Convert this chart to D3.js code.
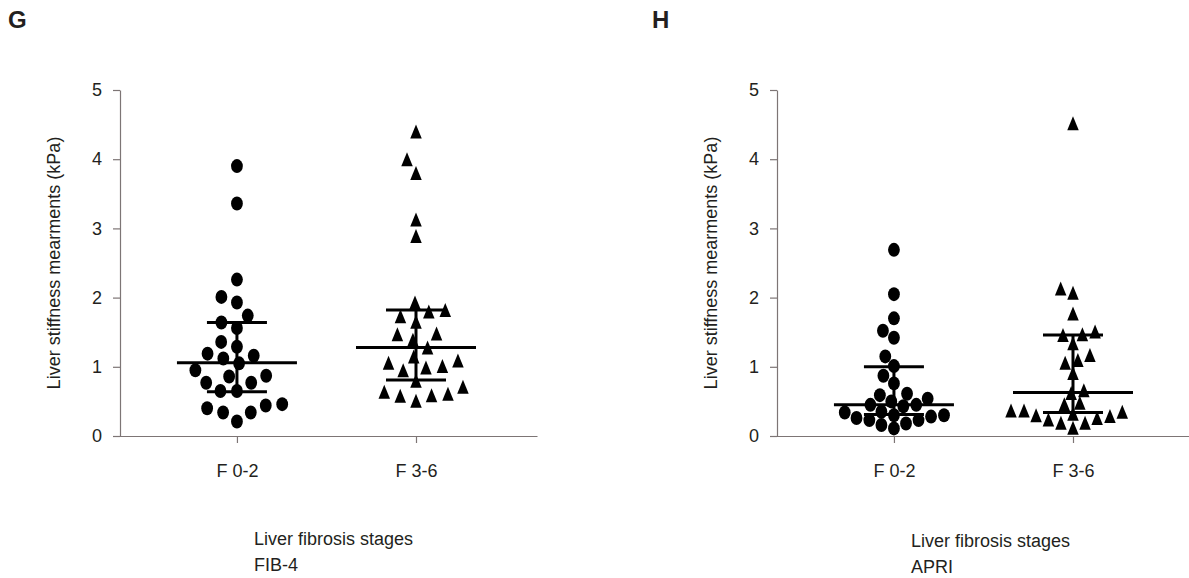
<!DOCTYPE html>
<html>
<head>
<meta charset="utf-8">
<script src="https://cdn.jsdelivr.net/npm/d3@7"></script>
<style>
  body { margin: 0; background: #fff; }
  svg { display: block; }
</style>
</head>
<body>
<script>
// values (kPa)
const categories = ["F 0-2", "F 3-6"];
const yTicks = [0, 1, 2, 3, 4, 5];

const fib4F02 = [3.90, 3.36, 2.26, 1.93, 2.01, 1.74, 1.64, 1.56, 1.36, 1.29, 1.19, 1.12, 1.16, 1.05,
  0.95, 0.87, 0.86, 0.77, 0.77, 0.65, 0.65, 0.44, 0.34, 0.34, 0.40, 0.46, 0.21];
const fib4F36 = [4.40, 4.00, 3.80, 3.13, 2.89, 1.93, 1.80, 1.82, 1.73, 1.65, 1.48, 1.47, 1.39, 1.28,
  1.15, 1.06, 0.99, 0.95, 1.01, 1.09, 0.80, 0.64, 0.59, 0.51, 0.58, 0.61, 0.71];
const apriF02 = [2.69, 2.05, 1.70, 1.52, 1.42, 1.15, 1.01, 0.87, 0.76, 0.59, 0.61, 0.54, 0.50, 0.45,
  0.43, 0.45, 0.35, 0.30, 0.28, 0.23, 0.18, 0.11, 0.16, 0.23, 0.26, 0.30, 0.34];
const apriF36 = [4.52, 2.13, 2.07, 1.77, 1.51, 1.46, 1.47, 1.34, 1.17, 1.10, 1.06, 0.91, 0.66, 0.62,
  0.48, 0.46, 0.37, 0.35, 0.30, 0.26, 0.19, 0.12, 0.19, 0.24, 0.29, 0.32, 0.37];

// median with interquartile range, one entry per category
const fib4Median = [1.06, 1.28];
const fib4Q1 = [0.64, 0.81];
const fib4Q3 = [1.64, 1.82];
const apriMedian = [0.45, 0.63];
const apriQ1 = [0.31, 0.34];
const apriQ3 = [1.00, 1.46];

const W = 1189, H = 578;
const ink = "#231f20", axisCol = "#7d7575";
const font = "'Liberation Sans', Arial, sans-serif";

const svg = d3.select("body").append("svg")
  .attr("width", W).attr("height", H)
  .attr("font-family", font);

const y = d3.scaleLinear().domain([0, 5]).range([436, 90]);

// custom triangle centred on its bounding box
const triangle = {
  draw(ctx, size) {
    const w = 11.5, h = 14;
    ctx.moveTo(0, -h / 2);
    ctx.lineTo(w / 2, h / 2);
    ctx.lineTo(-w / 2, h / 2);
    ctx.closePath();
  }
};

// simple beeswarm: lowest value first, each point as close to centre as it fits
function swarm(values, D) {
  const pts = values.map(v => ({ v, y: y(v) })).sort((a, b) => a.v - b.v);
  const placed = [];
  pts.forEach(p => {
    const blocks = [];
    placed.forEach(q => {
      const dy = p.y - q.y;
      if (Math.abs(dy) < D) {
        const h = Math.sqrt(D * D - dy * dy);
        blocks.push([q.dx - h, q.dx + h]);
      }
    });
    const cands = [0, ...blocks.flat()].sort((a, b) => Math.abs(a) - Math.abs(b));
    p.dx = cands.find(c => blocks.every(b => c <= b[0] + 1e-6 || c >= b[1] - 1e-6));
    placed.push(p);
  });
  return pts;
}

const panels = [
  { letter: "G", letterX: 8, axisX: 120, method: "FIB-4", titleDy: 545, spread: 16.5,
    groups: [fib4F02, fib4F36], med: fib4Median, q1: fib4Q1, q3: fib4Q3 },
  { letter: "H", letterX: 652, axisX: 777, method: "APRI", titleDy: 547, spread: 13,
    groups: [apriF02, apriF36], med: apriMedian, q1: apriQ1, q3: apriQ3 }
];

panels.forEach(p => {
  const x = d3.scalePoint().domain(categories)
    .range([p.axisX - 7, p.axisX + 417]).padding(0.684).align(0.506);

  svg.append("text")
    .attr("x", p.letterX).attr("y", 28)
    .attr("font-size", 24).attr("font-weight", "bold")
    .attr("fill", ink)
    .text(p.letter);

  // y axis
  const gy = svg.append("g")
    .attr("transform", `translate(${p.axisX},0)`)
    .call(d3.axisLeft(y).tickValues(yTicks).tickFormat(d3.format("d"))
      .tickSize(7).tickSizeOuter(0).tickPadding(11));
  gy.select(".domain").attr("stroke", axisCol).attr("stroke-width", 1.2);
  gy.selectAll(".tick line").attr("stroke", axisCol).attr("stroke-width", 1.2);
  gy.selectAll(".tick text").attr("fill", ink).attr("font-size", 18)
    .attr("font-family", font);

  // x axis
  const gx = svg.append("g")
    .attr("transform", `translate(0,${y(0)})`)
    .call(d3.axisBottom(x).tickSize(7).tickSizeOuter(0).tickPadding(21));
  gx.select(".domain").attr("stroke", axisCol).attr("stroke-width", 1.2);
  gx.selectAll(".tick line").attr("stroke", axisCol).attr("stroke-width", 1.2);
  gx.selectAll(".tick text").attr("fill", ink).attr("font-size", 18)
    .attr("font-family", font);

  // axis titles
  svg.append("text")
    .attr("transform", `translate(${p.axisX - 60},${(y(0) + y(5)) / 2}) rotate(-90)`)
    .attr("text-anchor", "middle")
    .attr("font-size", 18).attr("fill", ink)
    .text("Liver stiffness mearments (kPa)");

  const t = svg.append("text")
    .attr("x", p.axisX + 134).attr("y", p.titleDy)
    .attr("font-size", 18).attr("fill", ink);
  t.append("tspan").attr("x", p.axisX + 134).text("Liver fibrosis stages");
  t.append("tspan").attr("x", p.axisX + 134).attr("dy", 26).text(p.method);

  // points
  p.groups.forEach((vals, i) => {
    const cx = x(categories[i]);
    const pts = swarm(vals, p.spread);
    if (i === 0) {
      svg.append("g").selectAll("ellipse").data(pts).join("ellipse")
        .attr("cx", d => cx + d.dx).attr("cy", d => d.y)
        .attr("rx", 5.9).attr("ry", 7).attr("fill", "#000");
    } else {
      svg.append("g").selectAll("path").data(pts).join("path")
        .attr("transform", d => `translate(${cx + d.dx},${d.y})`)
        .attr("d", d3.symbol().type(triangle)())
        .attr("fill", "#000");
    }

    // median + IQR
    const g = svg.append("g").attr("stroke", "#000").attr("stroke-width", 3);
    g.append("line").attr("x1", cx - 60).attr("x2", cx + 60)
      .attr("y1", y(p.med[i])).attr("y2", y(p.med[i]));
    g.append("line").attr("x1", cx - 30).attr("x2", cx + 30)
      .attr("y1", y(p.q1[i])).attr("y2", y(p.q1[i]));
    g.append("line").attr("x1", cx - 30).attr("x2", cx + 30)
      .attr("y1", y(p.q3[i])).attr("y2", y(p.q3[i]));
    g.append("line").attr("x1", cx).attr("x2", cx)
      .attr("y1", y(p.q1[i])).attr("y2", y(p.q3[i]));
  });
});
</script>
</body>
</html>
